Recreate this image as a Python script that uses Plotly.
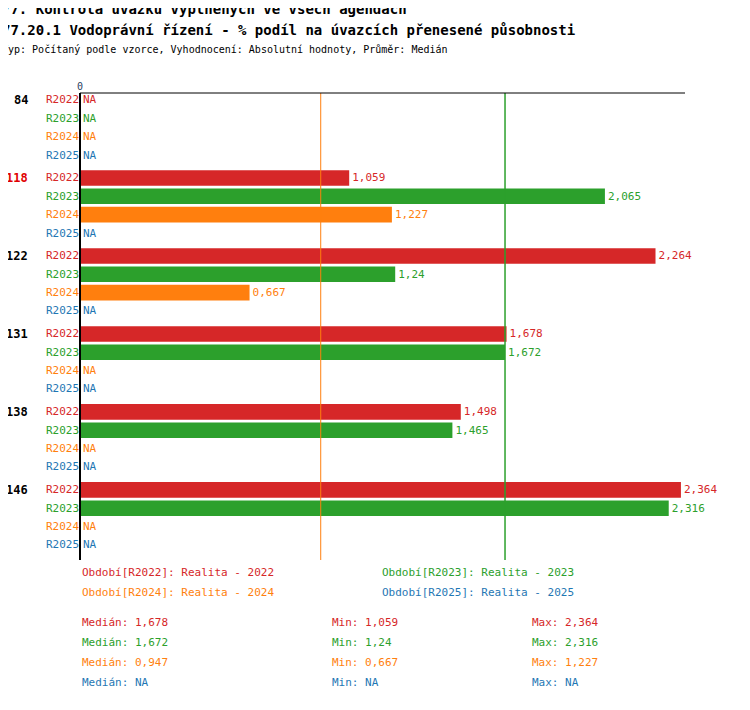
"""
Horizontal bar chart: Vodoprávní řízení – % podíl na úvazcích přenesené působnosti.
"""

import plotly.graph_objects as go

groups = ["84", "118", "122", "131", "138", "146"]
series = ["R2022", "R2023", "R2024", "R2025"]
colors = ["#d62728", "#2ca02c", "#ff7f0e", "#1f77b4"]
values = {
    "R2022": [None, 1.059, 2.264, 1.678, 1.498, 2.364],
    "R2023": [None, 2.065, 1.24, 1.672, 1.465, 2.316],
    "R2024": [None, 1.227, 0.667, None, None, None],
    "R2025": [None, None, None, None, None, None],
}
medians = [1.678, 1.672, 0.947, None]
mins = [1.059, 1.24, 0.667, None]
maxs = [2.364, 2.316, 1.227, None]
legend_names = ["Realita - 2022", "Realita - 2023", "Realita - 2024", "Realita - 2025"]
highlight = "118"

FONT = "DejaVu Sans Mono"
W, H = 750, 710
OFF = 8  # page body margin
L, R, T, B = 80, 685, 93, 560
GROUP_STEP = 4.25


def fmt(v):
    if v is None:
        return "NA"
    return ("%g" % v).replace(".", ",")


def px(x):
    return (x - L) / (R - L)


def py(y):
    return (B - y) / (B - T)


fig = go.Figure()
annotations = []

for si, (name, color) in enumerate(zip(series, colors)):
    ys = [gi * GROUP_STEP + si for gi in range(len(groups))]
    xs = [v if v is not None else 0 for v in values[name]]
    texts = [fmt(v) if v is not None else "" for v in values[name]]
    fig.add_trace(go.Bar(
        x=xs, y=ys, orientation="h", width=0.85,
        marker={"color": color, "line": {"width": 0}},
        text=texts, textposition="outside", cliponaxis=False,
        textfont={"family": FONT, "size": 11, "color": color},
        hoverinfo="skip",
    ))
    for gi, v in enumerate(values[name]):
        y = gi * GROUP_STEP + si
        annotations.append(dict(x=0, y=y, xref="x", yref="y", text=name,
                                xanchor="right", showarrow=False, xshift=1,
                                font={"family": FONT, "size": 11, "color": color}))
        if v is None:
            annotations.append(dict(x=0, y=y, xref="x", yref="y", text="NA",
                                    xanchor="left", showarrow=False, xshift=1,
                                    font={"family": FONT, "size": 11, "color": color}))

for gi, g in enumerate(groups):
    annotations.append(dict(x=px(30), y=gi * GROUP_STEP, xref="paper", yref="y",
                            text="<b>%s</b>" % g, xanchor="right", showarrow=False,
                            font={"family": FONT, "size": 12,
                                  "color": "#e00000" if g == highlight else "black"}))

# legend block
leg_pos = [(80, 581), (380, 581), (80, 601), (380, 601)]
for (x, y), name, lab, color in zip(leg_pos, series, legend_names, colors):
    annotations.append(dict(x=px(x), y=py(y), xref="paper", yref="paper",
                            text="Období[%s]: %s" % (name, lab), xanchor="left",
                            showarrow=False,
                            font={"family": FONT, "size": 11, "color": color}))
for i, color in enumerate(colors):
    y = 631 + 20 * i
    for x, lab, arr in [(80, "Medián", medians), (330, "Min", mins), (530, "Max", maxs)]:
        annotations.append(dict(x=px(x), y=py(y), xref="paper", yref="paper",
                                text="%s: %s" % (lab, fmt(arr[i])), xanchor="left",
                                showarrow=False,
                                font={"family": FONT, "size": 11, "color": color}))

# titles
titles = [
    (0, 9, "<b>77. Kontrola úvazků vyplněných ve všech agendách</b>", 14),
    (0, 30, "<b>77.20.1 Vodoprávní řízení - % podíl na úvazcích přenesené působnosti</b>", 14),
    (0, 50, "Typ: Počítaný podle vzorce, Vyhodnocení: Absolutní hodnoty, Průměr: Medián", 10),
]
for x, y, txt, size in titles:
    annotations.append(dict(x=px(x), y=py(y), xref="paper", yref="paper", text=txt,
                            xanchor="left", yanchor="middle", showarrow=False,
                            font={"family": FONT, "size": size, "color": "black"}))

shapes = [
    dict(type="line", xref="x", yref="paper", x0=medians[2], x1=medians[2], y0=0, y1=1,
         line={"color": "#ff7f0e", "width": 1}),
    dict(type="line", xref="x", yref="paper", x0=medians[1], x1=medians[1], y0=0, y1=1,
         line={"color": "#2ca02c", "width": 1.5}),
    dict(type="line", xref="paper", yref="paper", x0=0, x1=1, y0=1, y1=1,
         line={"color": "black", "width": 1}),
    dict(type="line", xref="paper", yref="paper", x0=0, x1=0, y0=0, y1=1,
         line={"color": "black", "width": 2}),
]

fig.update_layout(
    width=W, height=H, plot_bgcolor="white", paper_bgcolor="white",
    margin={"l": L - OFF, "r": W - R + OFF, "t": T - OFF, "b": H - B + OFF},
    showlegend=False, barmode="overlay",
    annotations=annotations, shapes=shapes,
    xaxis={"range": [0, (R - L) / 254.2], "side": "top", "tickvals": [0],
           "ticktext": ["0"], "showgrid": False, "zeroline": False,
           "tickfont": {"family": FONT, "size": 10}, "fixedrange": True},
    yaxis={"range": [5 * GROUP_STEP + 3 + 0.82, -0.38], "showticklabels": False,
           "showgrid": False, "zeroline": False, "fixedrange": True},
)

fig.write_html("out.html")
